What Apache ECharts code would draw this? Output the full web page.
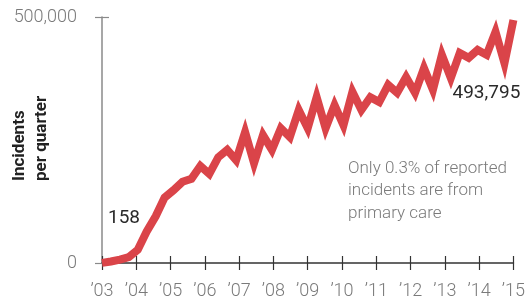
<!DOCTYPE html>
<html>
<head>
<meta charset="utf-8">
<script src="https://cdn.jsdelivr.net/npm/echarts@6/dist/echarts.min.js"></script>
<style>
  html, body { margin: 0; padding: 0; background: #fff; }
  #main { width: 528px; height: 307px; }
</style>
</head>
<body>
<div id="main"></div>
<script>
// quarters, Q3 2003 .. Q1 2015
const quarters = ['03Q3','03Q4',
  '04Q1','04Q2','04Q3','04Q4','05Q1','05Q2','05Q3','05Q4',
  '06Q1','06Q2','06Q3','06Q4','07Q1','07Q2','07Q3','07Q4',
  '08Q1','08Q2','08Q3','08Q4','09Q1','09Q2','09Q3','09Q4',
  '10Q1','10Q2','10Q3','10Q4','11Q1','11Q2','11Q3','11Q4',
  '12Q1','12Q2','12Q3','12Q4','13Q1','13Q2','13Q3','13Q4',
  '14Q1','14Q2','14Q3','14Q4','15Q1']
const incidents = [158, 3000, 7000, 12000, 27000, 64000, 95000, 133000, 148000, 165000,
  171000, 197000, 181000, 215000, 230000, 209000, 266000, 203000, 260000, 230000,
  274000, 256000, 311000, 274000, 337000, 274000, 321000, 280000, 348000, 311000,
  337000, 327000, 362000, 346000, 378000, 346000, 396000, 352000, 423000, 376000,
  427000, 417000, 433000, 423000, 470000, 406000, 493795]
const yearLabels = ['\u201903','\u201904','\u201905','\u201906','\u201907','\u201908','\u201909',
  '\u201910','\u201911','\u201912','\u201913','\u201914','\u201915']
const yTickLabels = ['0', '500,000']

const RED = '#da4449'
const GREY = '#7a7a7a'
const FONT = 'Roboto, "Liberation Sans", sans-serif'

let myChart = echarts.init(document.getElementById('main'), null, {renderer: 'canvas'})

let seriesData = incidents.map((v, i) => {
  if (i === 0) {
    return {value: v, label: {show: true, position: 'inside', offset: [22, -45], formatter: '158'}}
  }
  if (i === incidents.length - 1) {
    return {value: v, label: {show: true, position: 'inside', offset: [-27, 73], formatter: '493,795'}}
  }
  return v
})

let yearAxis = (inside, showLabel) => ({
  type: 'value',
  position: 'bottom',
  min: 2003,
  max: 2015,
  interval: 1,
  splitLine: {show: false},
  axisLine: {show: !inside, onZero: false, lineStyle: {color: '#333', width: 1.5}},
  axisTick: {show: true, inside: inside, length: 7, lineStyle: {color: '#333', width: 1.2}},
  axisLabel: {
    show: showLabel,
    margin: 19,
    color: GREY,
    fontSize: 18,
    fontFamily: FONT,
    fontWeight: 300,
    formatter: v => yearLabels[v - 2003]
  }
})

let valueAxis = (inside, showLabel) => ({
  type: 'value',
  position: 'left',
  min: 0,
  max: 500000,
  interval: 500000,
  splitLine: {show: false},
  axisLine: {show: !inside, lineStyle: {color: '#8a8a8a', width: 1.5}},
  axisTick: {show: true, inside: inside, length: 7, lineStyle: {color: '#8a8a8a', width: 1.2}},
  axisLabel: {
    show: showLabel,
    margin: 25,
    color: GREY,
    fontSize: 18,
    fontFamily: FONT,
    fontWeight: 300,
    formatter: v => v === 0 ? yTickLabels[0] : yTickLabels[1]
  }
})

let option = {
  animation: false,
  grid: {left: 102, right: 12, top: 17, bottom: 44, containLabel: false},
  xAxis: [
    yearAxis(false, true),
    yearAxis(true, false),
    {type: 'category', data: quarters, boundaryGap: false, show: false}
  ],
  yAxis: [
    valueAxis(false, true),
    valueAxis(true, false)
  ],
  graphic: [
    {
      type: 'text',
      x: 9,
      y: 181,
      rotation: Math.PI / 2,
      style: {
        text: 'Incidents\nper quarter',
        font: 'bold 17px ' + FONT,
        fill: '#222',
        textAlign: 'left',
        textVerticalAlign: 'top',
        lineHeight: 22
      }
    },
    {
      type: 'text',
      x: 348,
      y: 157,
      style: {
        text: 'Only 0.3% of reported\nincidents are from\nprimary care',
        font: '300 17px ' + FONT,
        fill: GREY,
        textAlign: 'left',
        textVerticalAlign: 'top',
        lineHeight: 22.5
      }
    }
  ],
  series: [{
    name: 'Incidents',
    type: 'line',
    xAxisIndex: 2,
    yAxisIndex: 0,
    data: seriesData,
    showSymbol: true,
    showAllSymbol: true,
    symbol: 'circle',
    symbolSize: 0,
    lineStyle: {color: RED, width: 8, join: 'miter', cap: 'butt'},
    itemStyle: {color: RED},
    label: {color: '#2a2a2a', fontSize: 19, fontFamily: FONT},
    emphasis: {disabled: true},
    z: 1
  }]
}
myChart.setOption(option)
</script>
</body>
</html>
